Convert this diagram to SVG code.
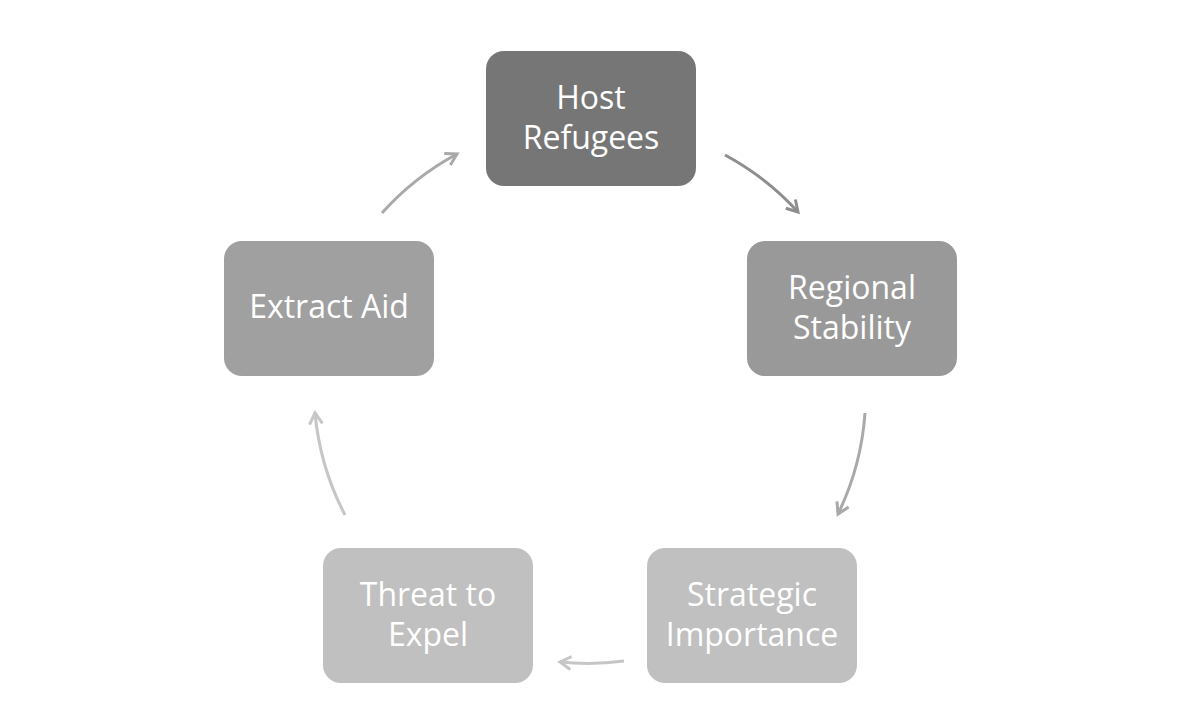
<svg xmlns="http://www.w3.org/2000/svg" width="1177" height="709" viewBox="0 0 1177 709">
<style>
.lbl{font-family:"Open Sans","Noto Sans",sans-serif;font-size:32px;fill:#ffffff;text-anchor:middle}
.c{fill:none;stroke-width:3}
</style>
<defs>
<marker id="m1" markerUnits="userSpaceOnUse" markerWidth="16" markerHeight="16" refX="12" refY="7" orient="auto" overflow="visible"><path d="M1,0.5 L12,7 L1,13.5" fill="none" stroke="#8e8e8e" stroke-width="3"/></marker>
<marker id="m2" markerUnits="userSpaceOnUse" markerWidth="16" markerHeight="16" refX="12" refY="7" orient="auto" overflow="visible"><path d="M1,0.5 L12,7 L1,13.5" fill="none" stroke="#a9a9a9" stroke-width="3"/></marker>
<marker id="m3" markerUnits="userSpaceOnUse" markerWidth="16" markerHeight="16" refX="12" refY="7" orient="auto" overflow="visible"><path d="M1,0.5 L12,7 L1,13.5" fill="none" stroke="#c6c6c6" stroke-width="3"/></marker>
</defs>
<rect width="1177" height="709" fill="#ffffff"/>
<g id="connectors">
<path class="c" stroke="#8e8e8e" marker-end="url(#m1)" d="M725,155 A275,275 0 0 1 798,212"/>
<path class="c" stroke="#a9a9a9" marker-end="url(#m2)" d="M865,413 A275,275 0 0 1 838,514"/>
<path class="c" stroke="#c6c6c6" marker-end="url(#m3)" d="M624,661 A275,275 0 0 1 560,662"/>
<path class="c" stroke="#c6c6c6" marker-end="url(#m3)" d="M345,515 A275,275 0 0 1 315,413"/>
<path class="c" stroke="#a9a9a9" marker-end="url(#m2)" d="M382,213 A275,275 0 0 1 457,154"/>
</g>
<g id="host">
<rect x="486" y="51" width="210" height="135" rx="18" fill="#767676"/>
<text class="lbl" x="591" y="109">Host</text>
<text class="lbl" x="591" y="149">Refugees</text>
</g>
<g id="regional">
<rect x="747" y="241" width="210" height="135" rx="18" fill="#999999"/>
<text class="lbl" x="852" y="299">Regional</text>
<text class="lbl" x="852" y="339">Stability</text>
</g>
<g id="strategic">
<rect x="647" y="548" width="210" height="135" rx="18" fill="#c0c0c0"/>
<text class="lbl" x="752" y="606">Strategic</text>
<text class="lbl" x="752" y="646">Importance</text>
</g>
<g id="threat">
<rect x="323" y="548" width="210" height="135" rx="18" fill="#c0c0c0"/>
<text class="lbl" x="428" y="606">Threat to</text>
<text class="lbl" x="428" y="646">Expel</text>
</g>
<g id="extract">
<rect x="224" y="241" width="210" height="135" rx="18" fill="#a0a0a0"/>
<text class="lbl" x="329" y="318">Extract Aid</text>
</g>
</svg>
